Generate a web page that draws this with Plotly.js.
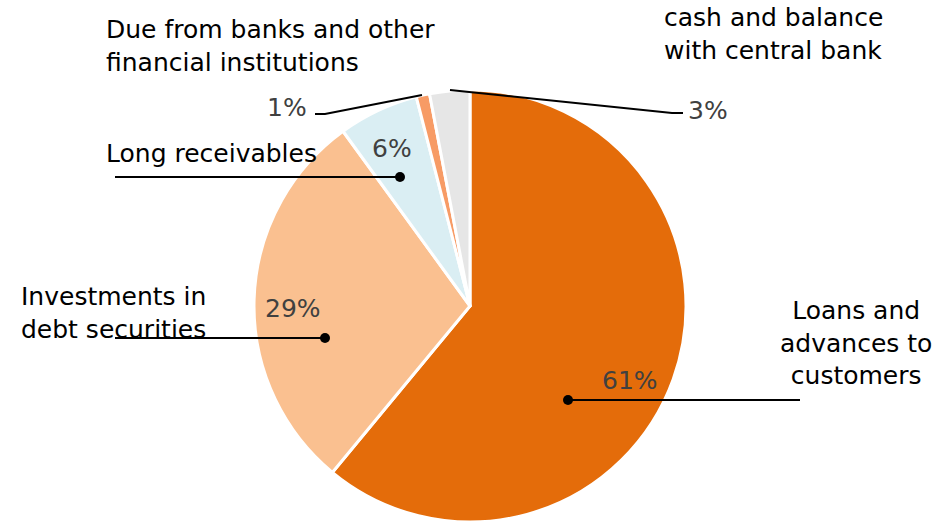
<!DOCTYPE html>
<html><head><meta charset="utf-8">
<script src="https://cdn.plot.ly/plotly-3.0.1.min.js"></script>
<style>html,body{margin:0;padding:0;background:#fff}#chart{width:944px;height:522px}</style>
</head><body><div id="chart"></div>
<script>
const categories = ["Loans and advances to customers","Investments in debt securities","Long receivables","Due from banks and other financial institutions","cash and balance with central bank"];
const labelTexts = ["Loans and<br>advances to<br>customers","Investments in<br>debt securities","Long receivables","Due from banks and other<br>financial institutions","cash and balance<br>with central bank"];
const values = [61, 29, 6, 1, 3];
const colors = ["#E46C0A","#FAC090","#DAEEF3","#F79B65","#E6E6E6"];

const W = 944, H = 522;
const px = x => x / W, py = y => 1 - y / H;
const total = values.reduce((a,b)=>a+b,0);
const pct = values.map(v => Math.round(v/total*100) + '%');

const FONT = '"DejaVu Sans", "Noto Sans", sans-serif';
// layout positions (pixels) for labels, percentages, leaders
const labelPos = [
  {x:856, y:343, xa:'center', align:'center'},
  {x:19, y:313, xa:'left', align:'left'},
  {x:104, y:153, xa:'left', align:'left'},
  {x:104, y:46, xa:'left', align:'left'},
  {x:662, y:34, xa:'left', align:'left'}
];
const pctPos = [
  {x:630, y:380, xa:'center'},
  {x:293, y:308, xa:'center'},
  {x:392, y:149, xa:'center'},
  {x:309, y:108, xa:'right'},
  {x:686, y:110, xa:'left'}
];
const leaders = [
  [[568,400],[800,400]],
  [[325,338],[115,338]],
  [[400,177],[115,177]],
  [[422,95],[325,114],[315,114]],
  [[450,90],[672,113],[683,113]]
];
const dots = [[568,400],[325,338],[400,177]];

const annotations = [];
labelTexts.forEach((t,i)=>{
  const p = labelPos[i];
  annotations.push({text:t, x:px(p.x), y:py(p.y), xref:'paper', yref:'paper', xanchor:p.xa, yanchor:'middle', align:p.align, showarrow:false, font:{family:FONT, size:25, color:'#000'}});
});
pct.forEach((t,i)=>{
  const p = pctPos[i];
  annotations.push({text:t, x:px(p.x), y:py(p.y), xref:'paper', yref:'paper', xanchor:p.xa, yanchor:'middle', showarrow:false, font:{family:FONT, size:25, color:'#404040'}});
});
const shapes = [];
leaders.forEach(pts=>{
  const path = pts.map((p,j)=>(j?'L':'M')+px(p[0])+','+py(p[1])).join(' ');
  shapes.push({type:'path', xref:'paper', yref:'paper', path:path, line:{color:'#000', width:2}});
});
dots.forEach(d=>{
  shapes.push({type:'circle', xref:'paper', yref:'paper', x0:px(d[0]-5), x1:px(d[0]+5), y0:py(d[1]+5), y1:py(d[1]-5), fillcolor:'#000', line:{color:'#000', width:0}});
});

const R = 217, cx = 470, cy = 307;
Plotly.newPlot('chart', [{
  type:'pie', labels:categories, values:values, sort:false, direction:'clockwise', rotation:0,
  marker:{colors:colors, line:{color:'#fff', width:3}}, textinfo:'none', hoverinfo:'label+percent',
  domain:{x:[px(cx-R), px(cx+R)], y:[0, (H-cy+R)/H]}
}], {
  width:W, height:H, margin:{l:0,r:0,t:0,b:0}, showlegend:false,
  paper_bgcolor:'#fff', annotations:annotations, shapes:shapes
}, {displayModeBar:false, staticPlot:true});
</script></body></html>
